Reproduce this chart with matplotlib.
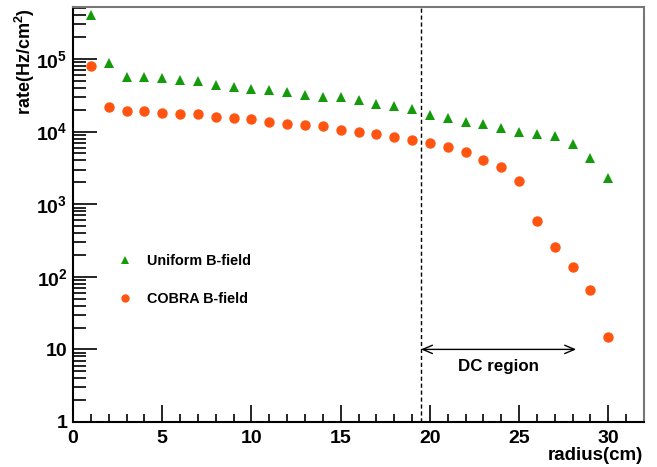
import numpy as np
import matplotlib
matplotlib.use('Agg')
import matplotlib.pyplot as plt
from matplotlib.ticker import FixedLocator, LogLocator, NullFormatter, FuncFormatter

plt.rcParams['font.family'] = 'Liberation Sans'
plt.rcParams['font.weight'] = 'bold'
plt.rcParams['mathtext.fontset'] = 'custom'
plt.rcParams['mathtext.rm'] = 'Liberation Sans:bold'
plt.rcParams['mathtext.bf'] = 'Liberation Sans:bold'
plt.rcParams['mathtext.it'] = 'Liberation Sans:bold'

radius = np.arange(1, 31)
# rate with uniform field (Hz/cm2)
uniform = [4.0e5, 8.7e4, 5.7e4, 5.7e4, 5.5e4, 5.2e4, 4.9e4, 4.4e4, 4.1e4, 3.8e4,
           3.7e4, 3.5e4, 3.2e4, 3.0e4, 3.0e4, 2.75e4, 2.4e4, 2.24e4, 2.04e4, 1.67e4,
           1.55e4, 1.37e4, 1.26e4, 1.12e4, 1.0e4, 9.4e3, 8.6e3, 6.8e3, 4.3e3, 2.3e3]
# rate with COBRA field
cobra = [7.9e4, 2.17e4, 1.9e4, 1.95e4, 1.82e4, 1.76e4, 1.74e4, 1.6e4, 1.52e4, 1.48e4,
         1.37e4, 1.29e4, 1.23e4, 1.19e4, 1.06e4, 1.0e4, 9.4e3, 8.4e3, 7.6e3, 6.9e3,
         6.1e3, 5.2e3, 4.0e3, 3.25e3, 2.1e3, 590, 255, 135, 66, 15]

dc_start = 19.5
dc_end = 28.2

fig = plt.figure(figsize=(6.57, 4.67), dpi=100)
ax = fig.add_axes([73/657, 1-422/467, 571/657, 415/467])

ax.plot(radius, uniform, '^', color='#159a0c', markersize=7, markeredgewidth=0, label='Uniform B-field')
ax.plot(radius, cobra, 'o', color='#ff5511', markersize=7.5, markeredgewidth=0, label='COBRA B-field')

ax.set_yscale('log')
ax.set_xlim(0, 32)
ax.set_ylim(1, 5.2e5)

ax.axvline(dc_start, color='black', ls=(0, (3, 2)), lw=1)
ax.annotate('', xy=(dc_start, 10), xytext=(dc_end, 10),
            arrowprops=dict(arrowstyle='<->,head_length=0.7,head_width=0.3',
                            mutation_scale=10, shrinkA=0, shrinkB=0, lw=1, color='black'))
ax.text((dc_start + dc_end) / 2, 5.9, 'DC region', ha='center', va='center', fontsize=12.2, fontweight='bold')

ax.xaxis.set_major_locator(FixedLocator([0, 5, 10, 15, 20, 25, 30]))
ax.xaxis.set_minor_locator(FixedLocator(np.arange(0, 33, 1)))
ax.yaxis.set_major_locator(LogLocator(base=10, numticks=10))
ax.yaxis.set_minor_locator(LogLocator(base=10, subs=np.arange(2, 10), numticks=20))
ax.yaxis.set_minor_formatter(NullFormatter())

def ylab(v, pos):
    e = int(round(np.log10(v)))
    if e == 0:
        return '1'
    if e == 1:
        return '10'
    return '$10^{%d}$' % e
ax.yaxis.set_major_formatter(FuncFormatter(ylab))

ax.tick_params(axis='both', which='both', direction='in', top=False, right=False, labelsize=14)
ax.tick_params(axis='x', which='major', length=12, width=1.2, pad=6)
ax.tick_params(axis='x', which='minor', length=6, width=1.2)
ax.tick_params(axis='y', which='major', length=17, width=1.2, pad=4)
ax.tick_params(axis='y', which='minor', length=9, width=1.2)
for lab in ax.get_xticklabels() + ax.get_yticklabels():
    lab.set_fontweight('bold')

for s in ['left', 'bottom']:
    ax.spines[s].set_linewidth(1.5)
    ax.spines[s].set_color('black')
for s in ['top', 'right']:
    ax.spines[s].set_linewidth(1.5)
    ax.spines[s].set_color('#777777')

fig.text(25/657, 1-8/467, 'rate(Hz/cm$^{2}$)', rotation=90, ha='center', va='top', fontsize=13, fontweight='bold')
fig.text(643/657, 1-455/467, 'radius(cm)', ha='right', va='center', fontsize=13.5, fontweight='bold')

ax.legend(loc='center left', bbox_to_anchor=(0.078, 0.342), frameon=False, fontsize=10.4,
          numpoints=1, handlelength=1, handletextpad=1.07, labelspacing=1.65,
          borderpad=0, borderaxespad=0, markerscale=0.8)

fig.savefig('out.png', dpi=100)
